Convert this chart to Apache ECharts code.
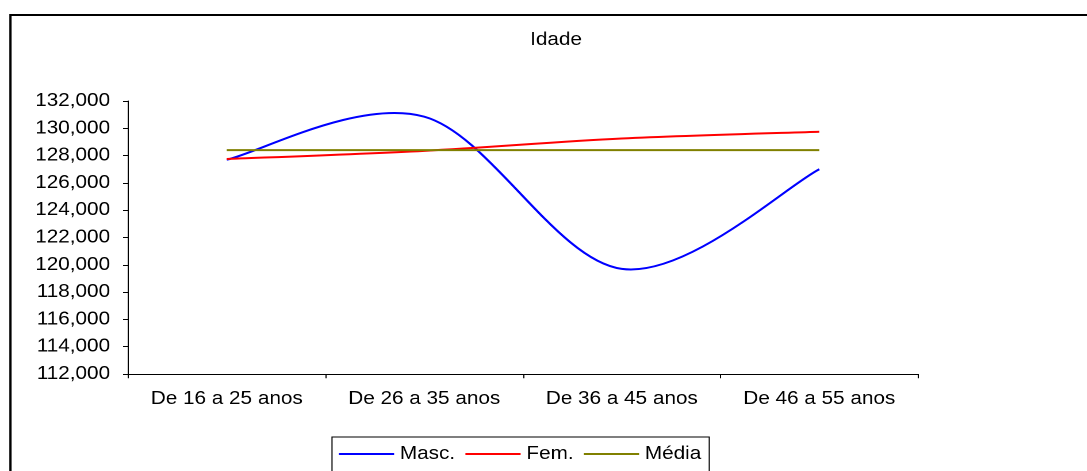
<!DOCTYPE html>
<html>
<head>
<meta charset="utf-8">
<script src="https://cdn.jsdelivr.net/npm/echarts@6/dist/echarts.min.js"></script>
<style>
  html, body { margin: 0; padding: 0; background: #fff; overflow: hidden; }
  /* the chart is laid out narrower and widened horizontally */
  #wrap { width: 1087px; height: 471px; overflow: hidden; }
  #chart { width: 945px; height: 471px; transform: scaleX(1.15); transform-origin: 0 0; }
</style>
</head>
<body>
<div id="wrap"><div id="chart"></div></div>
<script>
// Age bands
const categories = ['De 16 a 25 anos', 'De 26 a 35 anos', 'De 36 a 45 anos', 'De 46 a 55 anos'];
// Series values
const masc = [127700, 130850, 119700, 127000];
const fem = [127750, 128350, 129250, 129750];
const media = [128400, 128400, 128400, 128400];
// Value axis ticks
const yTicks = [112000, 114000, 116000, 118000, 120000, 122000, 124000, 126000, 128000, 130000, 132000];

const FONT = "'Liberation Sans', Arial, sans-serif";
const chart = echarts.init(document.getElementById('chart'), null, { devicePixelRatio: 2 });

// Smoothed line through the data points: cubic Bezier segments whose
// control points follow the neighbouring points (1/6 of prev->next).
function smoothRenderer(values, color) {
  return function (params, api) {
    if (params.dataIndex !== 0) return null;
    const pts = values.map((v, i) => api.coord([i, v]));
    const n = pts.length;
    const get = i => pts[Math.max(0, Math.min(n - 1, i))];
    let d = 'M' + pts[0][0] + ',' + pts[0][1];
    for (let i = 0; i < n - 1; i++) {
      const p0 = get(i - 1), p1 = get(i), p2 = get(i + 1), p3 = get(i + 2);
      const c1x = p1[0] + (p2[0] - p0[0]) / 6, c1y = p1[1] + (p2[1] - p0[1]) / 6;
      const c2x = p2[0] - (p3[0] - p1[0]) / 6, c2y = p2[1] - (p3[1] - p1[1]) / 6;
      d += ' C' + c1x + ',' + c1y + ' ' + c2x + ',' + c2y + ' ' + p2[0] + ',' + p2[1];
    }
    return {
      type: 'path',
      shape: { pathData: d },
      style: { fill: 'none', stroke: color, lineWidth: 2, lineJoin: 'round' }
    };
  };
}

function lineSeries(name, values, color) {
  return {
    name: name,
    type: 'custom',
    data: values.map((v, i) => [i, v]),
    encode: { x: 0, y: 1 },
    itemStyle: { color: color },
    renderItem: smoothRenderer(values, color)
  };
}

chart.setOption({
  animation: false,
  backgroundColor: '#fff',
  textStyle: { fontFamily: FONT },
  title: {
    text: 'Idade',
    left: 483.5,
    top: 31,
    textAlign: 'center',
    padding: 0,
    textStyle: { fontFamily: FONT, fontSize: 18, fontWeight: 'normal', color: '#000' }
  },
  grid: { left: 111.3, right: 146.7, top: 101, bottom: 97, containLabel: false },
  xAxis: {
    type: 'category',
    data: categories,
    boundaryGap: true,
    axisLine: { lineStyle: { color: '#000', width: 1 } },
    axisTick: { show: true, length: 4.3, inside: false, alignWithLabel: false, lineStyle: { color: '#000' } },
    axisLabel: { margin: 16, color: '#000', fontSize: 18, fontFamily: FONT, interval: 0 },
    splitLine: { show: false }
  },
  yAxis: {
    type: 'value',
    min: yTicks[0],
    max: yTicks[yTicks.length - 1],
    interval: yTicks[1] - yTicks[0],
    axisLine: { show: true, lineStyle: { color: '#000', width: 1 } },
    axisTick: { show: true, length: 4.3, lineStyle: { color: '#000' } },
    axisLabel: {
      margin: 15.6, color: '#000', fontSize: 18, fontFamily: FONT,
      formatter: v => v.toLocaleString('en-US')
    },
    splitLine: { show: false }
  },
  legend: {
    left: 288.7,
    top: 437,
    orient: 'horizontal',
    padding: [8, 7, 30, 6],
    icon: 'rect',
    itemWidth: 48,
    itemHeight: 2,
    itemGap: 9,
    borderColor: '#000',
    borderWidth: 1,
    textStyle: { fontFamily: FONT, fontSize: 18, color: '#000' },
    data: ['Masc.', 'Fem.', 'Média']
  },
  series: [
    lineSeries('Masc.', masc, '#0000ff'),
    lineSeries('Fem.', fem, '#ff0000'),
    lineSeries('Média', media, '#808000')
  ],
  graphic: [
    {
      type: 'rect',
      silent: true,
      z: 100,
      shape: { x: 9.1, y: 15, width: 2000, height: 2000 },
      style: { fill: 'none', stroke: '#000', lineWidth: 2 }
    }
  ]
});
</script>
</body>
</html>
